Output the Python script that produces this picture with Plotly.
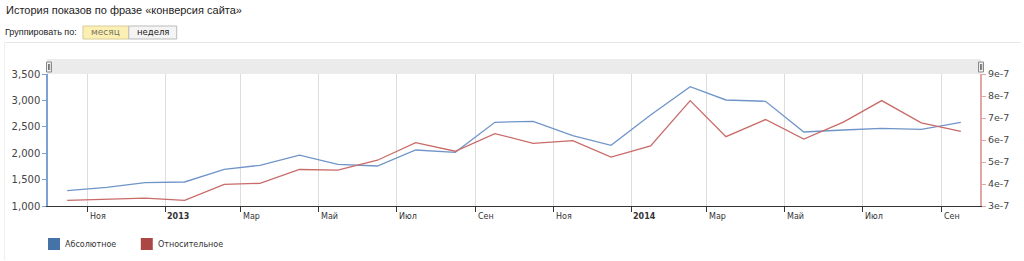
import plotly.graph_objects as go

# ---- data ----
months = ["2012-10", "2012-11", "2012-12", "2013-01", "2013-02", "2013-03", "2013-04",
          "2013-05", "2013-06", "2013-07", "2013-08", "2013-09", "2013-10", "2013-11",
          "2013-12", "2014-01", "2014-02", "2014-03", "2014-04", "2014-05", "2014-06",
          "2014-07", "2014-08", "2014-09"]
absolute = [1290, 1354, 1441, 1455, 1695, 1771, 1962, 1790, 1758, 2061, 2017, 2585,
            2604, 2331, 2150, 2724, 3260, 3008, 2983, 2402, 2439, 2472, 2453, 2585]
relative = [3.26e-7, 3.30e-7, 3.36e-7, 3.26e-7, 3.98e-7, 4.03e-7, 4.66e-7, 4.63e-7,
            5.08e-7, 5.88e-7, 5.49e-7, 6.29e-7, 5.85e-7, 5.97e-7, 5.22e-7, 5.73e-7,
            7.79e-7, 6.15e-7, 6.93e-7, 6.04e-7, 6.81e-7, 7.79e-7, 6.78e-7, 6.39e-7]
series_names = ["Абсолютное", "Относительное"]

x_tick_vals = ["2012-11-01", "2013-01-01", "2013-03-01", "2013-05-01", "2013-07-01",
               "2013-09-01", "2013-11-01", "2014-01-01", "2014-03-01", "2014-05-01",
               "2014-07-01", "2014-09-01"]
x_tick_text = ["Ноя", "<b>2013</b>", "Мар", "Май", "Июл", "Сен", "Ноя", "<b>2014</b>",
               "Мар", "Май", "Июл", "Сен"]
y1_ticks = [1000, 1500, 2000, 2500, 3000, 3500]
y2_ticks = [3e-7, 4e-7, 5e-7, 6e-7, 7e-7, 8e-7, 9e-7]
y2_text = ["3e-7", "4e-7", "5e-7", "6e-7", "7e-7", "8e-7", "9e-7"]

title_text = "История показов по фразе «конверсия сайта»"
group_label = "Группировать по:"
buttons = ["месяц", "неделя"]

# ---- geometry helpers (pixels -> paper) ----
W, H = 1024, 261
L, R, T, B = 46, 980, 74, 206
def px(x):
    return (x - L) / (R - L)
def py(y):
    return (B - y) / (B - T)

x_dates = [m + "-16" for m in months]
BLUE, RED = "#4572A7", "#AA4643"
FONT = "DejaVu Sans"

fig = go.Figure()
fig.add_trace(go.Scatter(x=x_dates, y=absolute, mode="lines", name=series_names[0],
                         line=dict(color="#6f95c8", width=1.3), yaxis="y",
                         showlegend=False, hoverinfo="x+y"))
fig.add_trace(go.Scatter(x=x_dates, y=relative, mode="lines", name=series_names[1],
                         line=dict(color="#c86b69", width=1.3), yaxis="y2",
                         showlegend=False, hoverinfo="x+y"))

shapes = []
annotations = []

# navigator bar above plot
shapes.append(dict(type="rect", xref="paper", yref="paper", x0=px(45), x1=px(981),
                   y0=py(74), y1=py(59), fillcolor="#ebebeb", line=dict(width=0), layer="below"))
for hx in (44.5, 978.5):
    shapes.append(dict(type="rect", xref="paper", yref="paper", x0=px(hx), x1=px(hx + 5),
                       y0=py(72), y1=py(62), fillcolor="#f2f2f2",
                       line=dict(color="#888888", width=1)))
    for lx in (hx + 2, hx + 3.2):
        shapes.append(dict(type="line", xref="paper", yref="paper", x0=px(lx), x1=px(lx),
                           y0=py(70), y1=py(64), line=dict(color="#555555", width=0.8)))

# panel border (faint)
shapes.append(dict(type="line", xref="paper", yref="paper", x0=px(3), x1=px(1021),
                   y0=py(42.5), y1=py(42.5), line=dict(color="#e6e6e6", width=1)))
shapes.append(dict(type="line", xref="paper", yref="paper", x0=px(2.5), x1=px(2.5),
                   y0=py(42.5), y1=py(260), line=dict(color="#eeeeee", width=1)))

# buttons
shapes.append(dict(type="rect", xref="paper", yref="paper", x0=px(81), x1=px(127),
                   y0=py(39), y1=py(26), fillcolor="#fcefb4", line=dict(color="#d8cc99", width=1)))
shapes.append(dict(type="rect", xref="paper", yref="paper", x0=px(127), x1=px(175),
                   y0=py(39), y1=py(26), fillcolor="#f4f4f4", line=dict(color="#bbbbbb", width=1)))
annotations.append(dict(xref="paper", yref="paper", x=px(104), y=py(32.5), text=buttons[0],
                        showarrow=False, xanchor="center", yanchor="middle",
                        font=dict(family=FONT, size=9, color="#7a7660")))
annotations.append(dict(xref="paper", yref="paper", x=px(151.5), y=py(32.5), text=buttons[1],
                        showarrow=False, xanchor="center", yanchor="middle",
                        font=dict(family=FONT, size=8.5, color="#222222")))

# title and group label
annotations.append(dict(xref="paper", yref="paper", x=px(2), y=py(10), text=title_text,
                        showarrow=False, xanchor="left", yanchor="middle",
                        font=dict(family="Liberation Sans", size=11, color="#222222")))
annotations.append(dict(xref="paper", yref="paper", x=px(1), y=py(32.5), text=group_label,
                        showarrow=False, xanchor="left", yanchor="middle",
                        font=dict(family="Liberation Sans", size=9, color="#222222")))

# x tick labels: left-aligned just right of each tick
for tv, tt in zip(x_tick_vals, x_tick_text):
    annotations.append(dict(xref="x", yref="paper", x=tv, y=py(216.5), text=tt,
                            showarrow=False, xanchor="left", yanchor="middle", xshift=0,
                            font=dict(family=FONT, size=8, color="#333333")))

# legend (squares + text)
for sx, tx, col, name in ((46, 61, BLUE, series_names[0]), (139, 154, RED, series_names[1])):
    shapes.append(dict(type="rect", xref="paper", yref="paper", x0=px(sx), x1=px(sx + 12),
                       y0=py(250), y1=py(238), fillcolor=col, line=dict(width=0)))
    annotations.append(dict(xref="paper", yref="paper", x=px(tx), y=py(244), text=name,
                            showarrow=False, xanchor="left", yanchor="middle",
                            font=dict(family=FONT, size=8, color="#333333")))

fig.update_layout(
    width=W, height=H,
    margin=dict(l=L, r=W - R, t=T, b=H - B, pad=0),
    paper_bgcolor="white", plot_bgcolor="white",
    showlegend=False,
    shapes=shapes, annotations=annotations,
    xaxis=dict(type="date", range=["2012-10-01", "2014-10-01"],
               tickvals=x_tick_vals, ticktext=x_tick_text, showticklabels=False,
               showgrid=True, gridcolor="#dddddd", gridwidth=1,
               showline=True, linecolor="#333333", linewidth=1,
               ticks="outside", ticklen=5, tickcolor="#333333",
               zeroline=False, fixedrange=True),
    yaxis=dict(range=[1000, 3500], tickvals=y1_ticks, tickformat=",",
               showgrid=False, zeroline=False,
               showline=True, linecolor="#7ea1d3", linewidth=1.5,
               ticks="outside", ticklen=4, tickcolor="#7ea1d3",
               tickfont=dict(family=FONT, size=10, color="#444444"), fixedrange=True),
    yaxis2=dict(range=[3e-7, 9e-7], tickvals=y2_ticks, ticktext=y2_text,
                overlaying="y", side="right", showgrid=False, zeroline=False,
                showline=True, linecolor="#e3a5a5", linewidth=2,
                ticks="outside", ticklen=4, tickcolor="#e3a5a5",
                tickfont=dict(family=FONT, size=9.5, color="#444444"), fixedrange=True),
)

fig.write_html("out.html", include_plotlyjs=True, config={"displayModeBar": False})
